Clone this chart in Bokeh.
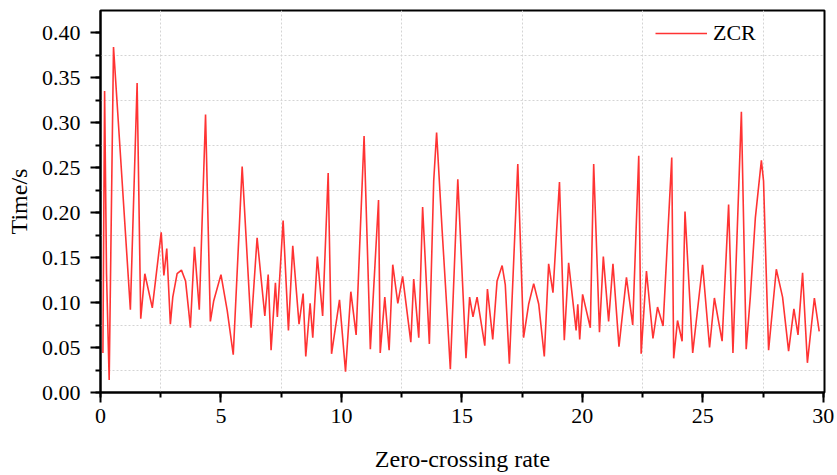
from bokeh.plotting import figure
from bokeh.models import (Range1d, SingleIntervalTicker, FixedTicker, PrintfTickFormatter,
                          Legend, LegendItem)
from bokeh.embed import file_html
from bokeh.resources import INLINE

# Zero-crossing rate curve
zcr_x = [0.10, 0.17, 0.25, 0.36, 0.54, 1.24, 1.52, 1.67, 1.84, 2.15, 2.52, 2.63, 2.75, 2.90,
         3.00, 3.18, 3.36, 3.53, 3.66, 3.73, 3.90, 4.10, 4.36, 4.56, 4.70, 5.00, 5.26, 5.51,
         5.88, 6.25, 6.50, 6.82, 6.96, 7.08, 7.26, 7.34, 7.58, 7.80, 7.98, 8.24, 8.41, 8.52,
         8.70, 8.81, 9.00, 9.22, 9.45, 9.59, 9.92, 10.17, 10.39, 10.61, 10.94, 11.20, 11.54,
         11.61, 11.80, 11.98, 12.13, 12.34, 12.54, 12.88, 13.00, 13.21, 13.37, 13.65, 13.83,
         13.95, 14.18, 14.39, 14.52, 14.83, 15.17, 15.32, 15.46, 15.63, 15.95, 16.06, 16.28,
         16.46, 16.67, 16.80, 16.97, 17.32, 17.56, 17.77, 17.98, 18.19, 18.42, 18.60, 18.78,
         19.05, 19.25, 19.43, 19.74, 19.81, 19.89, 20.01, 20.33, 20.47, 20.71, 20.87, 21.09,
         21.27, 21.52, 21.83, 22.09, 22.34, 22.44, 22.66, 22.93, 23.12, 23.35, 23.71, 23.79,
         23.95, 24.14, 24.26, 24.58, 24.99, 25.28, 25.48, 25.80, 26.07, 26.25, 26.60, 26.80,
         26.97, 27.18, 27.43, 27.52, 27.62, 27.73, 28.05, 28.31, 28.56, 28.78, 28.95, 29.14,
         29.34, 29.63, 29.83]
zcr_y = [0.044, 0.335, 0.132, 0.014, 0.384, 0.092, 0.344, 0.082, 0.132, 0.094, 0.178, 0.130,
         0.160, 0.076, 0.106, 0.132, 0.136, 0.124, 0.091, 0.072, 0.162, 0.092, 0.309, 0.079,
         0.102, 0.131, 0.091, 0.042, 0.251, 0.072, 0.172, 0.085, 0.131, 0.047, 0.122, 0.084,
         0.191, 0.069, 0.163, 0.076, 0.110, 0.040, 0.099, 0.061, 0.151, 0.085, 0.244, 0.043,
         0.103, 0.023, 0.112, 0.064, 0.285, 0.048, 0.214, 0.044, 0.106, 0.047, 0.142, 0.099,
         0.129, 0.056, 0.126, 0.061, 0.206, 0.054, 0.235, 0.289, 0.180, 0.087, 0.026, 0.237,
         0.038, 0.106, 0.084, 0.106, 0.052, 0.115, 0.059, 0.124, 0.141, 0.120, 0.032, 0.254,
         0.061, 0.098, 0.121, 0.098, 0.040, 0.143, 0.111, 0.234, 0.058, 0.144, 0.069, 0.098,
         0.059, 0.109, 0.072, 0.254, 0.067, 0.151, 0.079, 0.143, 0.051, 0.128, 0.075, 0.263,
         0.043, 0.135, 0.060, 0.095, 0.074, 0.261, 0.038, 0.080, 0.057, 0.201, 0.044, 0.142,
         0.050, 0.105, 0.057, 0.209, 0.044, 0.312, 0.048, 0.106, 0.194, 0.258, 0.235, 0.143,
         0.047, 0.137, 0.106, 0.046, 0.093, 0.064, 0.133, 0.033, 0.105, 0.068]

x_grid = [2.5, 7.5, 12.5, 17.5, 22.5, 27.5]
y_grid = [0.025, 0.075, 0.125, 0.175, 0.225, 0.275, 0.325, 0.375]

FONT = "Liberation Serif"

p = figure(frame_width=724, frame_height=382, output_backend="svg", toolbar_location=None,
           x_range=Range1d(0, 30.05), y_range=Range1d(0, 0.4245),
           min_border_left=100, min_border_top=10, min_border_right=13, min_border_bottom=83)

r = p.line(zcr_x, zcr_y, line_color="#ff3333", line_width=1.6)

p.outline_line_color = "black"
p.outline_line_width = 2

for ax, ticker in ((p.xaxis, SingleIntervalTicker(interval=5, num_minor_ticks=2)),
                   (p.yaxis, SingleIntervalTicker(interval=0.05, num_minor_ticks=2))):
    ax.ticker = ticker
    ax.axis_line_color = "black"
    ax.axis_line_width = 2
    ax.major_tick_line_width = 2
    ax.minor_tick_line_width = 2
    ax.major_tick_out = 10
    ax.major_tick_in = 0
    ax.minor_tick_out = 5
    ax.minor_tick_in = 0
    ax.major_label_text_font = FONT
    ax.major_label_text_font_size = "22px"
    ax.major_label_text_color = "black"
    ax.major_label_text_line_height = 1.0
    ax.axis_label_text_font = FONT
    ax.axis_label_text_font_size = "24px"
    ax.axis_label_text_font_style = "normal"
    ax.axis_label_text_color = "black"
    ax.axis_label_text_line_height = 1.0

p.yaxis.formatter = PrintfTickFormatter(format="%.2f")
p.xaxis.axis_label = "Zero-crossing rate"
p.yaxis.axis_label = "Time/s"
p.xaxis.major_label_standoff = 6
p.yaxis.major_label_standoff = 10
p.xaxis.axis_label_standoff = 20
p.yaxis.axis_label_standoff = 7

p.xgrid.ticker = FixedTicker(ticks=x_grid)
p.ygrid.ticker = FixedTicker(ticks=y_grid)
for g in (p.xgrid, p.ygrid):
    g.grid_line_color = "#d4d4d4"
    g.grid_line_dash = "2 2"
    g.grid_line_width = 1

legend = Legend(items=[LegendItem(label="ZCR", renderers=[r])], location=(555, 346),
                border_line_color=None, background_fill_alpha=0, padding=0, margin=0,
                glyph_width=52, glyph_height=24, label_height=24, label_standoff=6,
                label_text_font=FONT, label_text_font_size="22px", label_text_color="black")
p.add_layout(legend, "center")

open("out.html", "w").write(file_html(p, INLINE))
